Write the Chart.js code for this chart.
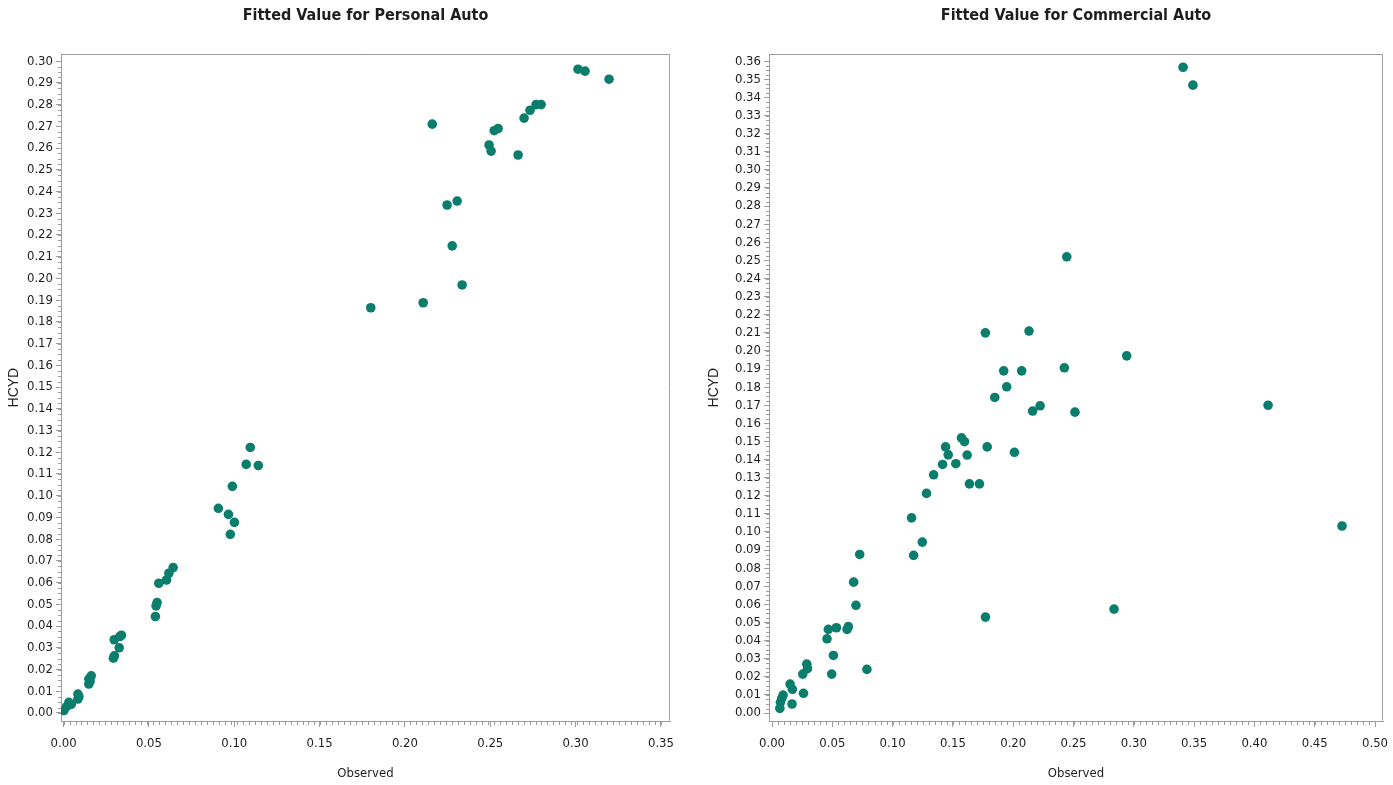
<!DOCTYPE html>
<html>
<head>
<meta charset="utf-8">
<script src="https://cdn.jsdelivr.net/npm/chart.js@4.4.1/dist/chart.umd.min.js"></script>
<style>
  html, body { margin: 0; padding: 0; background: #fff; }
  #wrap { position: relative; width: 1393px; height: 785px; }
  .box { position: absolute; top: 0; height: 785px; }
  #left { left: 0; width: 700px; }
  #right { left: 700px; width: 693px; }
</style>
</head>
<body>
<div id="wrap">
  <div class="box" id="left"><canvas id="personal"></canvas></div>
  <div class="box" id="right"><canvas id="commercial"></canvas></div>
</div>
<script>
// Personal auto: observed vs fitted HCYD
const personalObserved = [
    0.3196, 0.3014, 0.3055, 0.2798, 0.2768, 0.2733, 0.2698, 0.2546, 0.2523, 0.2493,
    0.2505, 0.2663, 0.2160, 0.2247, 0.2306, 0.2277, 0.2335, 0.2107, 0.1800, 0.1094,
    0.1070, 0.1141, 0.0989, 0.0907, 0.0966, 0.1001, 0.0977, 0.0642, 0.0617, 0.0603,
    0.0558, 0.0548, 0.0542, 0.0538, 0.0339, 0.0330, 0.0297, 0.0326, 0.0298, 0.0292,
    0.0162, 0.0148, 0.0148, 0.0155, 0.0084, 0.0084, 0.0090, 0.0031, 0.0018, 0.0002,
    0.0045
];
const personalFitted = [
    0.2917, 0.2963, 0.2954, 0.2800, 0.2800, 0.2774, 0.2738, 0.2690, 0.2680, 0.2614,
    0.2586, 0.2568, 0.2710, 0.2338, 0.2356, 0.2150, 0.1970, 0.1888, 0.1865, 0.1222,
    0.1144, 0.1139, 0.1043, 0.0942, 0.0914, 0.0877, 0.0822, 0.0669, 0.0643, 0.0612,
    0.0597, 0.0508, 0.0493, 0.0444, 0.0358, 0.0352, 0.0337, 0.0300, 0.0263, 0.0252,
    0.0171, 0.0156, 0.0133, 0.0145, 0.0087, 0.0064, 0.0075, 0.0049, 0.0029, 0.0011,
    0.0040
];

// Commercial auto: observed vs fitted HCYD
const commercialObserved = [
    0.3408, 0.3490, 0.2444, 0.1769, 0.2131, 0.2941, 0.2424, 0.1921, 0.2070, 0.1946,
    0.1847, 0.2161, 0.2223, 0.2512, 0.4113, 0.4726, 0.2836, 0.1571, 0.1596, 0.1439,
    0.1461, 0.1618, 0.1784, 0.2010, 0.1414, 0.1524, 0.1340, 0.1637, 0.1720, 0.1281,
    0.1157, 0.1246, 0.1174, 0.0727, 0.0677, 0.0696, 0.1770, 0.0633, 0.0622, 0.0534,
    0.0467, 0.0456, 0.0509, 0.0495, 0.0787, 0.0288, 0.0294, 0.0255, 0.0261, 0.0150,
    0.0169, 0.0166, 0.0092, 0.0081, 0.0070, 0.0065
];
const commercialFitted = [
    0.3567, 0.3468, 0.2520, 0.2100, 0.2110, 0.1973, 0.1907, 0.1890, 0.1890, 0.1802,
    0.1743, 0.1668, 0.1697, 0.1662, 0.1700, 0.1033, 0.0574, 0.1520, 0.1499, 0.1470,
    0.1426, 0.1425, 0.1470, 0.1440, 0.1373, 0.1377, 0.1316, 0.1266, 0.1266, 0.1213,
    0.1078, 0.0944, 0.0871, 0.0876, 0.0723, 0.0595, 0.0530, 0.0477, 0.0462, 0.0471,
    0.0462, 0.0410, 0.0318, 0.0215, 0.0241, 0.0270, 0.0245, 0.0215, 0.0109, 0.0160,
    0.0131, 0.0050, 0.0099, 0.0081, 0.0059, 0.0026
];

// Tick labels
const personalXTicks = [0, 0.05, 0.10, 0.15, 0.20, 0.25, 0.30, 0.35];
const personalYTicks = [0, 0.01, 0.02, 0.03, 0.04, 0.05, 0.06, 0.07, 0.08, 0.09, 0.10,
    0.11, 0.12, 0.13, 0.14, 0.15, 0.16, 0.17, 0.18, 0.19, 0.20,
    0.21, 0.22, 0.23, 0.24, 0.25, 0.26, 0.27, 0.28, 0.29, 0.30];
const commercialXTicks = [0, 0.05, 0.10, 0.15, 0.20, 0.25, 0.30, 0.35, 0.40, 0.45, 0.50];
const commercialYTicks = [0, 0.01, 0.02, 0.03, 0.04, 0.05, 0.06, 0.07, 0.08, 0.09, 0.10,
    0.11, 0.12, 0.13, 0.14, 0.15, 0.16, 0.17, 0.18, 0.19, 0.20,
    0.21, 0.22, 0.23, 0.24, 0.25, 0.26, 0.27, 0.28, 0.29, 0.30,
    0.31, 0.32, 0.33, 0.34, 0.35, 0.36];

const POINT_COLOR = '#0b7d6c';
const AXIS_GREY = '#9c9c9c';
const TEXT_COLOR = '#1e1e1e';
const NARROW = "'Liberation Sans Narrow', 'DejaVu Sans Condensed', 'Arial Narrow', sans-serif";

// frame on top/right plus short minor ticks, SAS style
const framePlugin = {
    id: 'frameMinor',
    afterDraw(chart, args, opts) {
        const { ctx, chartArea: a, scales } = chart;
        ctx.save();
        ctx.strokeStyle = AXIS_GREY;
        ctx.lineWidth = 1;
        ctx.beginPath();
        ctx.moveTo(Math.round(a.left) + 0.5, Math.round(a.top) + 0.5);
        ctx.lineTo(Math.round(a.right) - 0.5, Math.round(a.top) + 0.5);
        ctx.lineTo(Math.round(a.right) - 0.5, Math.round(a.bottom) - 0.5);
        ctx.stroke();

        ctx.beginPath();
        const xs = scales.x;
        for (let i = 0; i <= Math.round(opts.xMax / opts.xStep); i++) {
            const px = Math.round(xs.getPixelForValue(i * opts.xStep)) + 0.5;
            ctx.moveTo(px, a.bottom);
            ctx.lineTo(px, a.bottom + 4);
        }
        const ys = scales.y;
        for (let i = 0; i <= Math.round(opts.yMax / opts.yStep); i++) {
            const py = Math.round(ys.getPixelForValue(i * opts.yStep)) + 0.5;
            ctx.moveTo(a.left - 3, py);
            ctx.lineTo(a.left, py);
        }
        ctx.stroke();
        ctx.restore();
    }
};

function makeChart(id, title, xs, ys, xTicks, yTicks, xRange, yRange, yWidth, padRight, minor) {
    const points = xs.map((x, i) => ({ x, y: ys[i] }));
    return new Chart(document.getElementById(id), {
        type: 'scatter',
        data: {
            datasets: [{
                data: points,
                backgroundColor: POINT_COLOR,
                borderColor: POINT_COLOR,
                pointRadius: 4.8,
                pointHoverRadius: 4.8,
                borderWidth: 0
            }]
        },
        options: {
            responsive: true,
            maintainAspectRatio: false,
            animation: false,
            layout: { padding: { left: 0, right: padRight, top: 0, bottom: 0 } },
            plugins: {
                legend: { display: false },
                tooltip: { enabled: false },
                title: {
                    display: true,
                    text: title,
                    fullSize: false,
                    color: TEXT_COLOR,
                    font: { family: NARROW, size: 16, weight: 'bold' },
                    padding: { top: 6, bottom: 29 }
                },
                frameMinor: minor
            },
            scales: {
                x: {
                    type: 'linear',
                    min: xRange[0],
                    max: xRange[1],
                    afterBuildTicks: s => { s.ticks = xTicks.map(v => ({ value: v })); },
                    afterFit: s => { s.height = 64; s.paddingLeft = 0; s.paddingRight = 0; },
                    grid: { drawOnChartArea: false, color: AXIS_GREY, tickLength: 6 },
                    border: { color: AXIS_GREY },
                    ticks: {
                        color: TEXT_COLOR,
                        padding: 9,
                        maxRotation: 0,
                        autoSkip: false,
                        font: { family: NARROW, size: 13 },
                        callback: v => v.toFixed(2)
                    },
                    title: {
                        display: true,
                        text: 'Observed',
                        color: TEXT_COLOR,
                        font: { family: NARROW, size: 13 },
                        padding: { top: 0, bottom: 4 }
                    }
                },
                y: {
                    type: 'linear',
                    min: yRange[0],
                    max: yRange[1],
                    afterBuildTicks: s => { s.ticks = yTicks.map(v => ({ value: v })); },
                    afterFit: s => { s.width = yWidth; s.paddingTop = 0; s.paddingBottom = 0; },
                    grid: { drawOnChartArea: false, color: AXIS_GREY, tickLength: 5 },
                    border: { color: AXIS_GREY },
                    ticks: {
                        color: TEXT_COLOR,
                        padding: 3,
                        autoSkip: false,
                        font: { family: NARROW, size: 13 },
                        callback: v => v.toFixed(2)
                    },
                    title: {
                        display: true,
                        text: 'HCYD',
                        color: TEXT_COLOR,
                        font: { family: "'Liberation Sans', Arial, sans-serif", size: 14 },
                        padding: { top: 6, bottom: 0 }
                    }
                }
            }
        },
        plugins: [framePlugin]
    });
}

makeChart('personal', 'Fitted Value for Personal Auto',
    personalObserved, personalFitted, personalXTicks, personalYTicks,
    [-0.0015, 0.3553], [-0.0037, 0.3032], 61, 30,
    { xStep: 0.0035, xMax: 0.35, yStep: 0.0025, yMax: 0.30 });

makeChart('commercial', 'Fitted Value for Commercial Auto',
    commercialObserved, commercialFitted, commercialXTicks, commercialYTicks,
    [-0.0025, 0.5066], [-0.0044, 0.3639], 69, 10,
    { xStep: 0.005, xMax: 0.50, yStep: 0.0025, yMax: 0.36 });
</script>
</body>
</html>
